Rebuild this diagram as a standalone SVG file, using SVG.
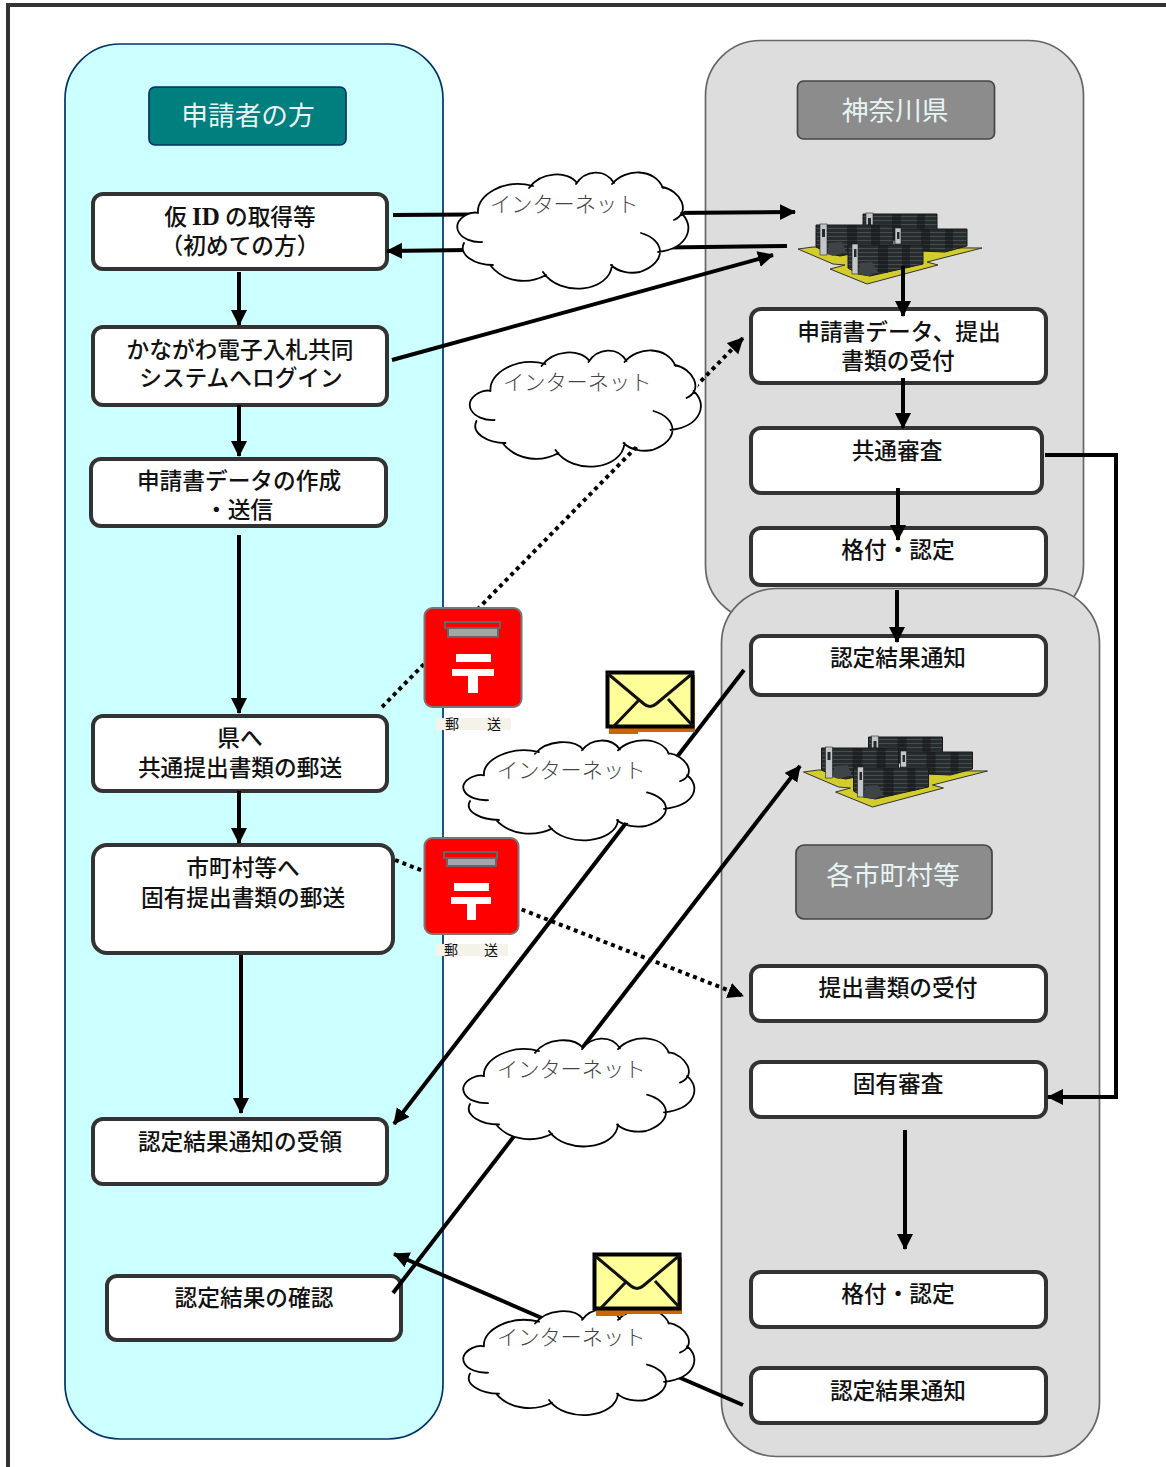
<svg xmlns="http://www.w3.org/2000/svg" xmlns:xlink="http://www.w3.org/1999/xlink" width="1166" height="1467" viewBox="0 0 1166 1467">
<style>
text{font-family:"Noto Sans CJK JP","Noto Sans",sans-serif;text-anchor:middle}
.box{fill:#fff;stroke:#333;stroke-width:4}
.t{font-size:22.7px;font-weight:500;fill:#111}
.h{font-size:26.7px;font-weight:400;fill:#e8f4f4}
.net{font-size:21.2px;font-weight:300;fill:#444;text-anchor:start}
.ln{fill:none;stroke:#000;stroke-width:4}
.arr{marker-end:url(#ah)}
.dot{fill:none;stroke:#000;stroke-width:4;stroke-dasharray:4 4}
.cl{fill:none;stroke:#000;stroke-width:1.8;stroke-linecap:round;vector-effect:non-scaling-stroke}
.postlab{font-size:14px;fill:#111}
.pil{fill:#c4c7c9;stroke:#222;stroke-width:.6}
.ins{fill:#26292b}
.skirt{fill:#3f4446}
</style>
<defs>
<marker id="ah" markerUnits="userSpaceOnUse" markerWidth="18" markerHeight="18" refX="15" refY="8" orient="auto"><path d="M0 0L16 8L0 16Z" fill="#000"/></marker>
<pattern id="st" width="6" height="4" patternUnits="userSpaceOnUse"><rect width="6" height="4" fill="#272c2e"/><rect width="6" height="1" fill="#474d4f"/></pattern>
<g id="cloud">
<path fill="#fff" d="M478 213C478 195 505 178 533 186C540 172 568 170 577 183C585 170 605 168 614 183C625 168 655 168 663 188C680 190 692 205 682 213C695 225 690 250 658 252C655 265 630 275 612 265C610 292 560 298 543 272C530 284 505 284 490 265C475 265 458 255 464 243C450 238 448 222 466 215C470 213 475 212 478 213Z"/>
<path class="cl" d="M478 213C476 195 505 178 533 186M529 188C540 172 568 170 577 183M576 184C585 170 605 168 614 183M612 184C625 168 655 168 663 188M662 187C680 190 692 212 674 220M681 213C695 225 690 248 658 252M641 233C665 240 668 262 640 272C630 274 618 272 611 265M612 265C610 292 560 298 543 272M546 275C530 284 505 284 490 265M493 265C475 265 458 255 464 243M482 242C460 243 448 225 466 215C470 213 475 212 478 213"/>
</g>
<g id="server">
<path fill="#d2cc2c" stroke="#333" d="M798 249L813 247L982 248L927 262L938 265L867 284L830 269L845 265L833 264Z"/>
<path fill="url(#st)" stroke="#1a1a1a" d="M863 214L937 214L937 240L863 240Z"/>
<path fill="#15181a" opacity=".55" d="M892 214h9v26h-9zM917 214h8v26h-8z"/>
<rect class="pil" x="866" y="213" width="7" height="13"/><rect class="ins" x="868" y="218" width="3" height="7"/>
<path fill="url(#st)" stroke="#1a1a1a" d="M816 225L893 225L893 246L840 256L830 254L816 247Z"/>
<path fill="#15181a" opacity=".55" d="M847 225h10v27h-10zM871 225h9v22h-9z"/>
<path class="skirt" d="M827 254L829 243L842 242L846 252L833 256Z"/>
<rect class="pil" x="820" y="224" width="7" height="31"/><rect class="ins" x="822" y="229" width="3" height="8"/>
<path fill="url(#st)" stroke="#1a1a1a" d="M895 229L967 229L967 246L945 252L895 250Z"/>
<path fill="#15181a" opacity=".55" d="M921 229h9v22h-9zM945 229h8v20h-8z"/>
<rect class="pil" x="895" y="228" width="6" height="16"/><rect class="ins" x="897" y="232" width="2.500" height="7"/>
<path fill="url(#st)" stroke="#1a1a1a" d="M848 245L923 245L923 264L870 276L858 274L848 268Z"/>
<path fill="#15181a" opacity=".55" d="M878 245h10v28h-10zM902 245h8v23h-8z"/>
<path class="skirt" d="M858 274L860 263L872 262L878 272L868 276Z"/>
<rect class="pil" x="852" y="244" width="6" height="30"/><rect class="ins" x="854" y="249" width="2.500" height="8"/>
</g>
<g id="env">
<path fill="#cc6600" d="M3 4H89V61H32V63H3Z"/>
<rect x="1.500" y="1.500" width="85" height="54" fill="#ffff99" stroke="#000" stroke-width="4"/>
<path fill="none" stroke="#111" stroke-width="3" d="M1 2L38 33Q44 38 50 33L87 2M8 55L32 30M87 55L62 28"/>
</g>
</defs>
<g id="frame"><path d="M1166 5H8V1467" fill="none" stroke="#333" stroke-width="4"/></g>
<g id="panel-applicant"><rect x="65" y="44" width="378" height="1395" rx="55" fill="#ccffff" stroke="#003366" stroke-width="1.7"/></g>
<g id="panel-kanagawa"><rect x="705.500" y="40.500" width="378" height="580" rx="55" fill="#ddd" stroke="#666" stroke-width="1.7"/></g>
<g id="panel-city"><rect x="721.500" y="588.500" width="378" height="868" rx="55" fill="#ddd" stroke="#666" stroke-width="1.7"/></g>

<g id="head-applicant"><rect x="149" y="87" width="197" height="58" rx="6" fill="#007f7f" stroke="#003366" stroke-width="1.7"/><text class="h" x="248" y="125">申請者の方</text></g>
<g id="head-kanagawa"><rect x="797.500" y="81" width="197" height="58" rx="6" fill="#8c8c8c" stroke="#444" stroke-width="1.7"/><text class="h" x="895" y="120">神奈川県</text></g>
<g id="head-city"><rect x="796" y="845" width="196" height="74" rx="8" fill="#8c8c8c" stroke="#444" stroke-width="1.7"/><text class="h" x="893" y="885">各市町村等</text></g>

<g id="a1"><rect class="box" x="93" y="194" width="294" height="75" rx="10"/><text class="t" x="240" y="225">仮 <tspan font-family="Liberation Serif" font-weight="700" font-size="25">ID</tspan> の取得等</text><text class="t" x="240" y="254">（初めての方）</text></g>
<g id="a2"><rect class="box" x="93" y="327" width="294" height="78" rx="10"/><text class="t" x="240" y="358">かながわ電子入札共同</text><text class="t" x="241" y="386">システムへログイン</text></g>
<g id="a3"><rect class="box" x="91" y="459" width="295" height="67" rx="10"/><text class="t" x="239" y="489">申請書データの作成</text><text class="t" x="239" y="518">・送信</text></g>
<g id="a4"><rect class="box" x="93" y="716" width="294" height="75" rx="10"/><text class="t" x="240" y="746">県へ</text><text class="t" x="240" y="776">共通提出書類の郵送</text></g>
<g id="a5"><rect class="box" x="93" y="845" width="300" height="108" rx="14"/><text class="t" x="243" y="876">市町村等へ</text><text class="t" x="243" y="906">固有提出書類の郵送</text></g>
<g id="a6"><rect class="box" x="93" y="1119" width="294" height="65" rx="10"/><text class="t" x="240" y="1150">認定結果通知の受領</text></g>
<g id="a7"><rect class="box" x="107" y="1276" width="294" height="64" rx="10"/><text class="t" x="254" y="1306">認定結果の確認</text></g>
<g id="k1"><rect class="box" x="751" y="309" width="295" height="74" rx="10"/><text class="t" x="899" y="340">申請書データ、提出</text><text class="t" x="898" y="369">書類の受付</text></g>
<g id="k2"><rect class="box" x="751" y="428" width="291" height="65" rx="10"/><text class="t" x="897" y="459">共通審査</text></g>
<g id="k3"><rect class="box" x="751" y="528" width="295" height="57" rx="10"/><text class="t" x="898" y="558">格付・認定</text></g>
<g id="c1"><rect class="box" x="751" y="636" width="295" height="59" rx="10"/><text class="t" x="898" y="666">認定結果通知</text></g>
<g id="c2"><rect class="box" x="751" y="966" width="295" height="55" rx="10"/><text class="t" x="898" y="996">提出書類の受付</text></g>
<g id="c3"><rect class="box" x="751" y="1062" width="295" height="55" rx="10"/><text class="t" x="898" y="1092">固有審査</text></g>
<g id="c4"><rect class="box" x="751" y="1272" width="295" height="55" rx="10"/><text class="t" x="898" y="1302">格付・認定</text></g>
<g id="c5"><rect class="box" x="751" y="1368" width="295" height="55" rx="10"/><text class="t" x="898" y="1399">認定結果通知</text></g>

<g id="server-kanagawa"><use href="#server"/></g>
<g id="server-city"><use href="#server" transform="translate(5.500 523)"/></g>

<g id="connectors">
<path class="ln arr" d="M393 215L470 214.500L795 212"/>
<path class="ln arr" d="M787 246L387 251"/>
<path class="ln arr" d="M392 360L773 255"/>
<path class="dot arr" d="M382 707L743 338"/>
<path class="ln arr" d="M239 272V325"/>
<path class="ln arr" d="M239 405V456"/>
<path class="ln arr" d="M239 535V713"/>
<path class="ln arr" d="M239 791V843"/>
<path class="ln arr" d="M241 955V1113"/>
<path class="ln arr" d="M903 266V316"/>
<path class="ln arr" d="M903 378V428"/>
<path class="ln arr" d="M898 488V540"/>
<path class="ln arr" d="M897 590V642"/>
<path class="ln arr" d="M1045 455H1116V1097H1048"/>
<path class="ln arr" d="M744 670L394 1124"/>
<path class="ln arr" d="M393 1293L800 766"/>
<path class="ln arr" d="M743 1405L394 1254"/>
<path class="dot arr" d="M395 860L743 996"/>
<path class="ln arr" d="M905 1130V1249"/>
</g>

<g id="net1"><use href="#cloud"/><text class="net" x="490" y="212">インターネット</text></g>
<g id="net2"><use href="#cloud" transform="translate(12.500 178)"/><text class="net" x="503" y="390">インターネット</text></g>
<g id="net3"><use href="#cloud" transform="translate(6 740) scale(1 .86) translate(0 -172)"/><text class="net" x="497" y="778">インターネット</text></g>
<g id="net4"><use href="#cloud" transform="translate(6 1038) scale(1 .93) translate(0 -172)"/><text class="net" x="497" y="1077">インターネット</text></g>
<g id="net5"><use href="#cloud" transform="translate(6 1309) scale(1 .91) translate(0 -172)"/><text class="net" x="497" y="1345">インターネット</text></g>

<g id="post1">
<rect x="424.500" y="608" width="97" height="99" rx="8" fill="#f00" stroke="#777" stroke-width="2"/>
<rect x="445" y="622" width="55" height="6" fill="#f00" stroke="#666" stroke-width="2"/>
<rect x="448" y="628" width="50" height="9" fill="#a6a6a6" stroke="#666" stroke-width="2"/>
<path fill="#fff" d="M456 654H491V662H456ZM452 669H494V676H478V693H468V676H452Z"/>
<rect x="436" y="718" width="75" height="12" fill="#f5f2ea"/>
<text class="postlab" x="452" y="729">郵</text><text class="postlab" x="494" y="729">送</text>
</g>
<g id="post2">
<rect x="424.500" y="838" width="94" height="96" rx="8" fill="#f00" stroke="#777" stroke-width="2"/>
<rect x="444" y="852" width="53" height="6" fill="#f00" stroke="#666" stroke-width="2"/>
<rect x="447" y="858" width="49" height="8" fill="#a6a6a6" stroke="#666" stroke-width="2"/>
<path fill="#fff" d="M454 883H489V891H454ZM451 897H491V904H476V920H467V904H451Z"/>
<rect x="436" y="944" width="72" height="12" fill="#f5f2ea"/>
<text class="postlab" x="451" y="955">郵</text><text class="postlab" x="491" y="955">送</text>
</g>
<g id="mail1"><use href="#env" transform="translate(606 671)"/></g>
<g id="mail2"><use href="#env" transform="translate(593 1253)"/></g>
</svg>
